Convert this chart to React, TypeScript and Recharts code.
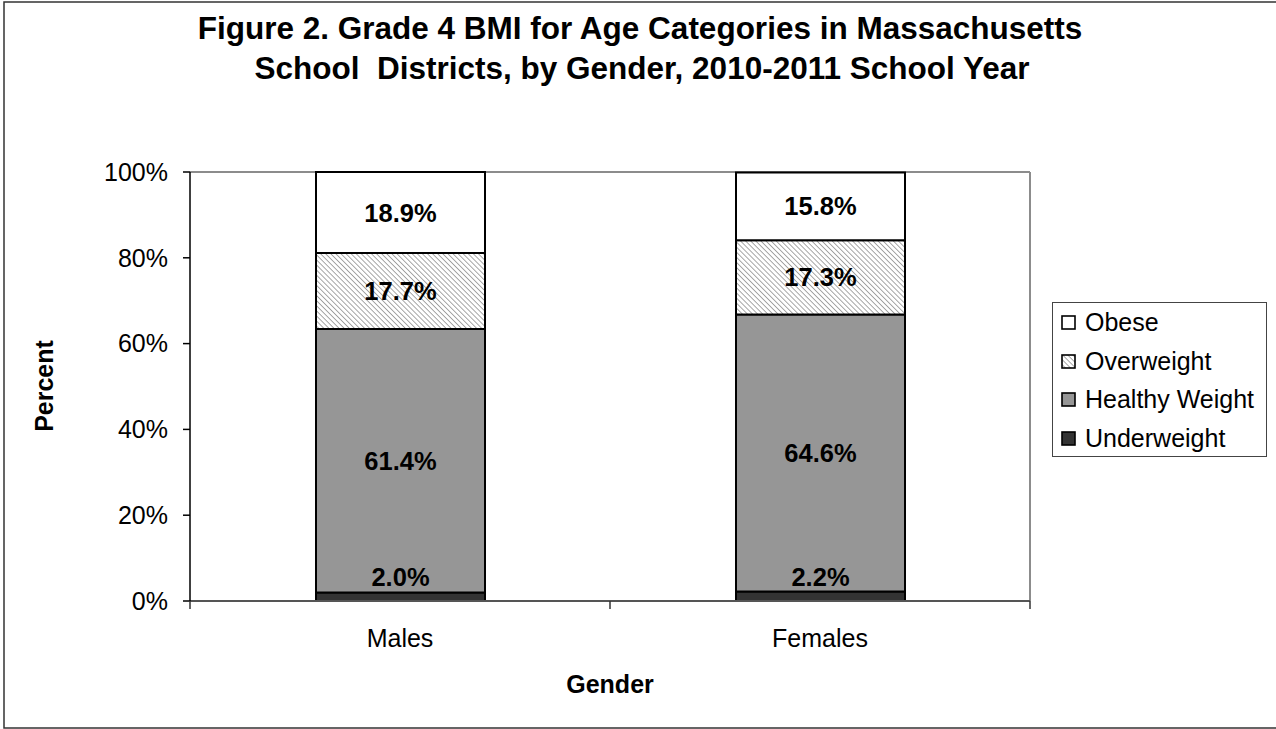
import React from "react";
import {
  BarChart,
  Bar,
  XAxis,
  YAxis,
  CartesianGrid,
  LabelList,
} from "recharts";

const genders = ["Males", "Females"];
const underweight = [2.0, 2.2];
const healthyWeight = [61.4, 64.6];
const overweight = [17.7, 17.3];
const obese = [18.9, 15.8];
const yTicks = [0, 20, 40, 60, 80, 100];

const data = genders.map((g, i) => ({
  gender: g,
  underweight: underweight[i],
  healthy: healthyWeight[i],
  overweight: overweight[i],
  obese: obese[i],
}));

const FONT = "Arial, 'Liberation Sans', Helvetica, sans-serif";

const series = [
  { key: "underweight", name: "Underweight", fill: "#333333" },
  { key: "healthy", name: "Healthy Weight", fill: "#969696" },
  { key: "overweight", name: "Overweight", fill: "url(#hatch)" },
  { key: "obese", name: "Obese", fill: "#ffffff" },
];

function XTick(props: any) {
  const { x, y, payload, width, visibleTicksCount, index } = props;
  const half = payload.offset ?? width / visibleTicksCount / 2;
  const top = y - 8;
  return (
    <g>
      <line x1={x - half} x2={x - half} y1={top} y2={top + 8} stroke="#333" strokeWidth={1.5} />
      {index === visibleTicksCount - 1 && (
        <line x1={x + half} x2={x + half} y1={top} y2={top + 8} stroke="#333" strokeWidth={1.5} />
      )}
      <text x={x} y={top + 46} textAnchor="middle" fontSize={25} fontFamily={FONT} fill="#000">
        {payload.value}
      </text>
    </g>
  );
}

function makeLabel(raise: boolean) {
  return (props: any) => {
    const { x, y, width, height, value } = props;
    const cx = x + width / 2;
    const cy = raise ? y - 15 : y + height / 2;
    return (
      <text
        x={cx}
        y={cy + 9}
        textAnchor="middle"
        fontSize={25.5}
        fontWeight="bold"
        fontFamily={FONT}
        fill="#000"
      >
        {`${Number(value).toFixed(1)}%`}
      </text>
    );
  };
}

function Swatch({ fill }: { fill: string }) {
  return (
    <svg width={15} height={15} style={{ display: "block", marginRight: 9 }}>
      <rect x={1} y={1} width={13} height={13} fill={fill} stroke="#000" strokeWidth={1.6} />
    </svg>
  );
}

function LegendBox() {
  const items = [...series].reverse();
  return (
    <div
      style={{
        position: "absolute",
        left: 1052,
        top: 302,
        border: "1px solid #444",
        background: "#fff",
        width: 215,
        height: 155,
        boxSizing: "border-box",
        paddingTop: 0,
        paddingLeft: 8,
        fontFamily: FONT,
        fontSize: 25,
        color: "#000",
      }}
    >
      {items.map((s) => (
        <div key={s.key} style={{ display: "flex", alignItems: "center", height: 38.7 }}>
          <Swatch fill={s.fill} />
          <span>{s.name}</span>
        </div>
      ))}
    </div>
  );
}

export default function App() {
  return (
    <div style={{ position: "relative", width: 1276, height: 729, background: "#fff" }}>
      <style>{"body{margin:0;}"}</style>
      <BarChart
        width={1276}
        height={729}
        data={data}
        margin={{ top: 172, right: 246, left: 110, bottom: 68 }}
        barSize={169}
      >
        <defs>
          <pattern
            id="hatch"
            patternUnits="userSpaceOnUse"
            width={3.6}
            height={3.6}
            patternTransform="rotate(-45)"
          >
            <rect width={3.6} height={3.6} fill="#ffffff" />
            <line x1={0} y1={0} x2={0} y2={3.6} stroke="#8a8a8a" strokeWidth={1.5} />
          </pattern>
        </defs>
        <CartesianGrid
          stroke="#8c8c8c"
          strokeWidth={2}
          horizontalCoordinatesGenerator={({ offset }: any) => [offset.top]}
          verticalCoordinatesGenerator={({ offset }: any) => [offset.left + offset.width]}
        />
        <XAxis
          dataKey="gender"
          height={60}
          axisLine={{ stroke: "#555", strokeWidth: 2 }}
          tickLine={false}
          tickSize={8}
          tickMargin={0}
          tick={<XTick />}
          interval={0}
        />
        <YAxis
          width={80}
          domain={[0, 100]}
          ticks={yTicks}
          tickFormatter={(v) => `${v}%`}
          axisLine={{ stroke: "#000", strokeWidth: 1.5 }}
          tickLine={{ stroke: "#000", strokeWidth: 1.5 }}
          tickSize={7}
          tickMargin={15}
          tick={{ fontSize: 25, fontFamily: FONT, fill: "#000" }}
        />
        {series.map((s) => (
          <Bar
            key={s.key}
            dataKey={s.key}
            name={s.name}
            stackId="a"
            fill={s.fill}
            stroke="#000"
            strokeWidth={2}
            isAnimationActive={false}
          >
            <LabelList dataKey={s.key} content={makeLabel(s.key === "underweight")} />
          </Bar>
        ))}
      </BarChart>
      <LegendBox />
      <svg
        width={1276}
        height={729}
        style={{ position: "absolute", left: 0, top: 0, pointerEvents: "none" }}
      >
        <rect x={4} y={2} width={1290} height={726} fill="none" stroke="#333" strokeWidth={1.5} />
        <g fontFamily={FONT} fontWeight="bold" fill="#000">
          <text x={640} y={39} textAnchor="middle" fontSize={31.5}>
            Figure 2. Grade 4 BMI for Age Categories in Massachusetts
          </text>
          <text x={642} y={79} textAnchor="middle" fontSize={31.5} style={{ whiteSpace: "pre" }}>
            {"School  Districts, by Gender, 2010-2011 School Year"}
          </text>
          <text x={610} y={693} textAnchor="middle" fontSize={25}>
            Gender
          </text>
          <text x={53} y={386} textAnchor="middle" fontSize={25} transform="rotate(-90 53 386)">
            Percent
          </text>
        </g>
      </svg>
    </div>
  );
}
